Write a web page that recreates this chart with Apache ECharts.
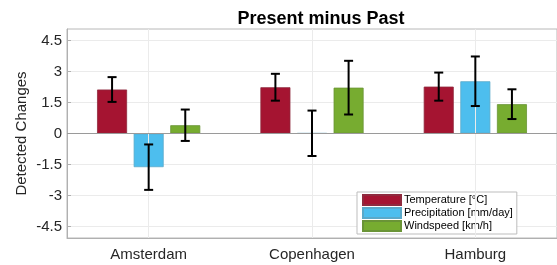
<!DOCTYPE html>
<html><head><meta charset="utf-8">
<script src="https://cdn.jsdelivr.net/npm/echarts@6/dist/echarts.min.js"></script>
<style>html,body{margin:0;padding:0;background:#fff}#c{width:557px;height:265px}</style>
</head><body><div id="c"></div>
<script>
const categories = ['Amsterdam', 'Copenhagen', 'Hamburg'];
const seriesNames = ['Temperature [°C]', 'Precipitation [mm/day]', 'Windspeed [km/h]'];
const temperature = [2.13, 2.24, 2.27];
const temperatureErr = [0.6, 0.65, 0.68];
const precipitation = [-1.63, 0.01, 2.53];
const precipitationErr = [1.1, 1.1, 1.2];
const windspeed = [0.4, 2.22, 1.42];
const windspeedErr = [0.76, 1.3, 0.72];
const yTicks = [-4.5, -3, -1.5, 0, 1.5, 3, 4.5];
const colors = ['#A51431', '#4DBEEE', '#77AC30'];
const borders = ['#8f2a3e', '#5aa9c9', '#6a9436'];

const values = [temperature, precipitation, windspeed];
const errs = [temperatureErr, precipitationErr, windspeedErr];

const chart = echarts.init(document.getElementById('c'), null, {renderer: 'canvas'});
const font = 'Liberation Sans, Arial, Helvetica, sans-serif';

const series = [];
series.push({
  type: 'line', data: [], silent: true, z: 0,
  markLine: {symbol: 'none', silent: true, label: {show: false}, animation: false,
    lineStyle: {color: '#ebebeb', width: 1, type: 'solid'},
    data: categories.map(c => ({xAxis: c}))}
});
values.forEach((vals, i) => {
  series.push({
    name: seriesNames[i], type: 'bar', data: vals,
    barWidth: 30, barGap: '22%',
    itemStyle: {color: colors[i], borderColor: borders[i], borderWidth: 0.8},
    z: 2
  });
});
const barW = 30, gap = 6.6;
values.forEach((vals, i) => {
  const offset = (i - 1) * (barW + gap);
  series.push({
    type: 'custom', z: 5, silent: true,
    data: vals.map((v, j) => [j, v - errs[i][j], v + errs[i][j]]),
    renderItem: function (params, api) {
      const lo = api.coord([api.value(0), api.value(1)]);
      const hi = api.coord([api.value(0), api.value(2)]);
      const x = lo[0] + offset;
      const cap = 4.5;
      const st = {stroke: '#000', lineWidth: 2};
      return {type: 'group', children: [
        {type: 'line', shape: {x1: x, y1: lo[1], x2: x, y2: hi[1]}, style: st},
        {type: 'line', shape: {x1: x - cap, y1: lo[1], x2: x + cap, y2: lo[1]}, style: st},
        {type: 'line', shape: {x1: x - cap, y1: hi[1], x2: x + cap, y2: hi[1]}, style: st}
      ]};
    }
  });
});
series.push({
  type: 'line', data: [], silent: true, z: 3,
  markLine: {symbol: 'none', silent: true, label: {show: false}, animation: false,
    lineStyle: {color: '#9a9a9a', width: 1.2, type: 'solid'},
    data: [{yAxis: 0}]}
});

chart.setOption({
  animation: false,
  textStyle: {fontFamily: font},
  title: {text: 'Present minus Past', left: 316, top: 5, textAlign: 'center',
    textStyle: {fontSize: 18, fontWeight: 'bold', color: '#000', fontFamily: font}},
  grid: {left: 67, top: 29, width: 492, height: 209, containLabel: false,
    show: true, borderColor: '#b8b8b8', borderWidth: 1, backgroundColor: 'transparent'},
  legend: {
    data: seriesNames, orient: 'vertical', left: 357, top: 192,
    itemWidth: 38, itemHeight: 10, itemGap: 1, padding: [2, 4, 2, 5],
    backgroundColor: '#fff', borderColor: '#bdbdbd', borderWidth: 1,
    textStyle: {fontSize: 11, lineHeight: 12, color: '#000', fontFamily: font, padding: [0, 0, 0, -2]},
    icon: 'rect', selectedMode: false
  },
  xAxis: {
    type: 'category', data: categories,
    axisLine: {show: true, onZero: false, lineStyle: {color: '#b0b0b0', width: 1}},
    axisTick: {show: true, alignWithLabel: true, inside: true, length: 4, lineStyle: {color: '#b0b0b0'}},
    axisLabel: {fontSize: 15, color: '#262626', margin: 9, fontFamily: font},
    splitLine: {show: false}
  },
  yAxis: {
    type: 'value', min: -5.06, max: 5.06,
    name: 'Detected Changes', nameLocation: 'middle', nameGap: 38, nameRotate: 90,
    nameMoveOverlap: false,
    nameTextStyle: {fontSize: 15, color: '#262626', fontFamily: font},
    axisLine: {show: true, lineStyle: {color: '#b0b0b0', width: 1}},
    axisTick: {show: true, inside: true, length: 4, customValues: yTicks, lineStyle: {color: '#b0b0b0'}},
    axisLabel: {fontSize: 15, color: '#262626', margin: 5, customValues: yTicks, fontFamily: font},
    splitLine: {show: true, lineStyle: {color: '#ebebeb'}}
  },
  series: series
});
</script></body></html>
